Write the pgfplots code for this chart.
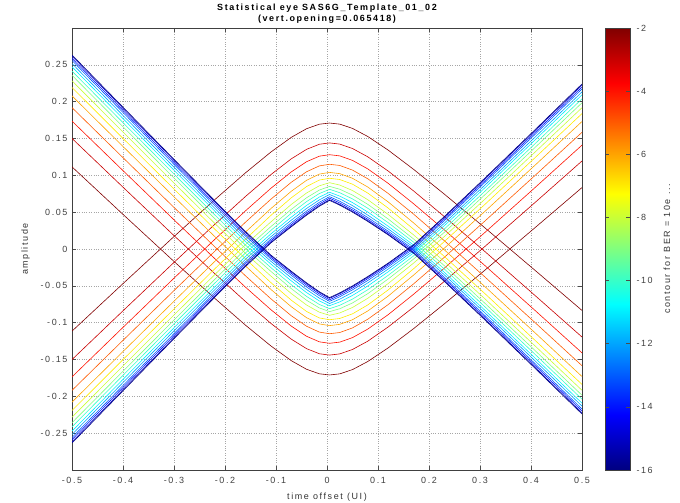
\documentclass[border=0pt]{standalone}
\usepackage{pgfplots}
\pgfplotsset{compat=1.18}
\usepackage{pgfplotstable}
\usepackage{fontspec}
\setmainfont[LetterSpace=18]{Liberation Sans}

% jet colours of the contour levels -2 ... -16
\definecolor{L2}{rgb}{0.5,0,0}
\definecolor{L3}{rgb}{0.786,0,0}
\definecolor{L4}{rgb}{1,0.071,0}
\definecolor{L5}{rgb}{1,0.357,0}
\definecolor{L6}{rgb}{1,0.643,0}
\definecolor{L7}{rgb}{1,0.929,0}
\definecolor{L8}{rgb}{0.786,1,0.214}
\definecolor{L9}{rgb}{0.5,1,0.5}
\definecolor{L10}{rgb}{0.214,1,0.786}
\definecolor{L11}{rgb}{0,0.929,1}
\definecolor{L12}{rgb}{0,0.643,1}
\definecolor{L13}{rgb}{0,0.357,1}
\definecolor{L14}{rgb}{0,0.071,1}
\definecolor{L15}{rgb}{0,0,0.786}
\definecolor{L16}{rgb}{0,0,0.5}

% lower branch of each contour (the upper branch is its mirror)
\pgfplotstableread{
x      m2      m3      m4      m5      m6      m7      m8      m9      m10     m11     m12     m13     m14     m15     m16
-0.5   0.1115  0.1501  0.1736  0.1919  0.2078  0.2193  0.2283  0.2358  0.2415  0.2473  0.2518  0.2559  0.2588  0.2618  0.2634
-0.4   0.0470  0.0839  0.1064  0.1240  0.1392  0.1502  0.1588  0.1659  0.1715  0.1770  0.1813  0.1853  0.1881  0.1909  0.1925
-0.3  -0.0169  0.0182  0.0396  0.0564  0.0709  0.0814  0.0896  0.0964  0.1017  0.1070  0.1111  0.1149  0.1176  0.1203  0.1217
-0.22 -0.0670 -0.0335 -0.0131  0.0030  0.0168  0.0269  0.0347  0.0412  0.0463  0.0514  0.0553  0.0590  0.0616  0.0642  0.0655
-0.16 -0.1033 -0.0712 -0.0517 -0.0363 -0.0229 -0.0132 -0.0058  0.0005  0.0054  0.0102  0.0140  0.0176  0.0201  0.0226  0.0239
-0.11 -0.1316 -0.1010 -0.0824 -0.0676 -0.0549 -0.0456 -0.0368 -0.0304 -0.0253 -0.0205 -0.0167 -0.0135 -0.0113 -0.0093 -0.0083
-0.07 -0.1516 -0.1224 -0.1047 -0.0906 -0.0784 -0.0695 -0.0605 -0.0538 -0.0485 -0.0433 -0.0392 -0.0357 -0.0332 -0.0312 -0.0302
-0.04 -0.1633 -0.1353 -0.1185 -0.1049 -0.0933 -0.0848 -0.0761 -0.0696 -0.0644 -0.0592 -0.0551 -0.0515 -0.0490 -0.0470 -0.0460
-0.015 -0.1694 -0.1422 -0.1260 -0.1128 -0.1017 -0.0936 -0.0858 -0.0800 -0.0753 -0.0705 -0.0667 -0.0634 -0.0610 -0.0590 -0.0580
0.005 -0.1710 -0.1440 -0.1280 -0.1150 -0.1040 -0.0960 -0.0900 -0.0850 -0.0810 -0.0770 -0.0740 -0.0710 -0.0690 -0.0670 -0.0660
0.025 -0.1695 -0.1424 -0.1264 -0.1134 -0.1023 -0.0943 -0.0868 -0.0811 -0.0764 -0.0718 -0.0681 -0.0648 -0.0625 -0.0605 -0.0595
0.05  -0.1637 -0.1364 -0.1203 -0.1071 -0.0960 -0.0880 -0.0794 -0.0732 -0.0680 -0.0630 -0.0589 -0.0554 -0.0530 -0.0511 -0.0501
0.08  -0.1527 -0.1251 -0.1087 -0.0953 -0.0841 -0.0759 -0.0669 -0.0606 -0.0553 -0.0502 -0.0460 -0.0427 -0.0402 -0.0384 -0.0374
0.12  -0.1342 -0.1058 -0.0891 -0.0754 -0.0639 -0.0555 -0.0469 -0.0407 -0.0357 -0.0309 -0.0272 -0.0241 -0.0219 -0.0201 -0.0192
0.17  -0.1080 -0.0787 -0.0613 -0.0472 -0.0353 -0.0267 -0.0190 -0.0135 -0.0092 -0.0052 -0.0023  0.0005  0.0026  0.0048  0.0059
0.23  -0.0745 -0.0440 -0.0260 -0.0113  0.0011  0.0101  0.0169  0.0226  0.0271  0.0316  0.0350  0.0384  0.0406  0.0429  0.0440
0.31  -0.0285  0.0037  0.0227  0.0382  0.0513  0.0608  0.0679  0.0739  0.0787  0.0834  0.0870  0.0906  0.0929  0.0953  0.0965
0.41   0.0302  0.0644  0.0847  0.1012  0.1151  0.1253  0.1329  0.1392  0.1443  0.1494  0.1532  0.1570  0.1595  0.1620  0.1633
0.5    0.0834  0.1195  0.1410  0.1584  0.1731  0.1838  0.1918  0.1985  0.2039  0.2093  0.2133  0.2173  0.2200  0.2226  0.2240
}\eyedata

\begin{document}
\begin{tikzpicture}
\path[use as bounding box] (0,0) rectangle (680bp,503bp);
\begin{axis}[
  at={(72bp,33bp)}, anchor=south west,
  scale only axis, width=510bp, height=442bp,
  xmin=-0.5, xmax=0.5, ymin=-0.3, ymax=0.3,
  xtick={-0.5,-0.4,-0.3,-0.2,-0.1,0,0.1,0.2,0.3,0.4,0.5},
  ytick={-0.25,-0.2,-0.15,-0.1,-0.05,0,0.05,0.1,0.15,0.2,0.25},
  grid=major, grid style={dotted, black!35, line width=0.45pt},
  tick align=inside, major tick length=4bp,
  tick style={black!70, line width=0.5pt},
  axis line style={black!75, line width=0.6pt},
  ticklabel style={font=\fontsize{9}{10}\selectfont, text=black!75},
  xticklabel style={yshift=-4bp},
  yticklabel style={xshift=-1bp},
  /pgf/number format/assume math mode=true,
  /pgf/number format/fixed, /pgf/number format/precision=2,
  xlabel={time offset (UI)},
  ylabel={amplitude},
  label style={font=\fontsize{9}{10}\selectfont, text=black!80},
  xlabel style={yshift=-2bp},
  ylabel style={yshift=4bp},
  title={Statistical eye SAS6G\_Template\_01\_02\\(vert.opening=0.065418)},
  title style={align=center, font=\fontsize{9}{11}\selectfont\bfseries, yshift=-5bp},
  colorbar, colormap/jet, point meta min=-16, point meta max=-2,
  colorbar/width=25bp,
  colorbar style={
    at={(parent axis.north east)}, anchor=north west, xshift=14.5bp,
    scale only axis, width=25bp, height=442bp,
    ytick={-16,-14,-12,-10,-8,-6,-4,-2},
    ticklabel style={font=\fontsize{9}{10}\selectfont, text=black!75},
    yticklabel style={xshift=3bp},
    /pgf/number format/assume math mode=true,
    ylabel={contour for BER = 10e ...},
    ylabel style={font=\fontsize{9}{10}\selectfont, text=black!80, yshift=-4bp},
    axis line style={black!75},
  },
]
\pgfplotsinvokeforeach{2,...,16}{
  \addplot[L#1, line width=0.6pt] table[x=x, y=m#1] {\eyedata};
  \addplot[L#1, line width=0.6pt] table[x=x, y expr=-\thisrow{m#1}] {\eyedata};
}
\end{axis}
\end{tikzpicture}
\end{document}
